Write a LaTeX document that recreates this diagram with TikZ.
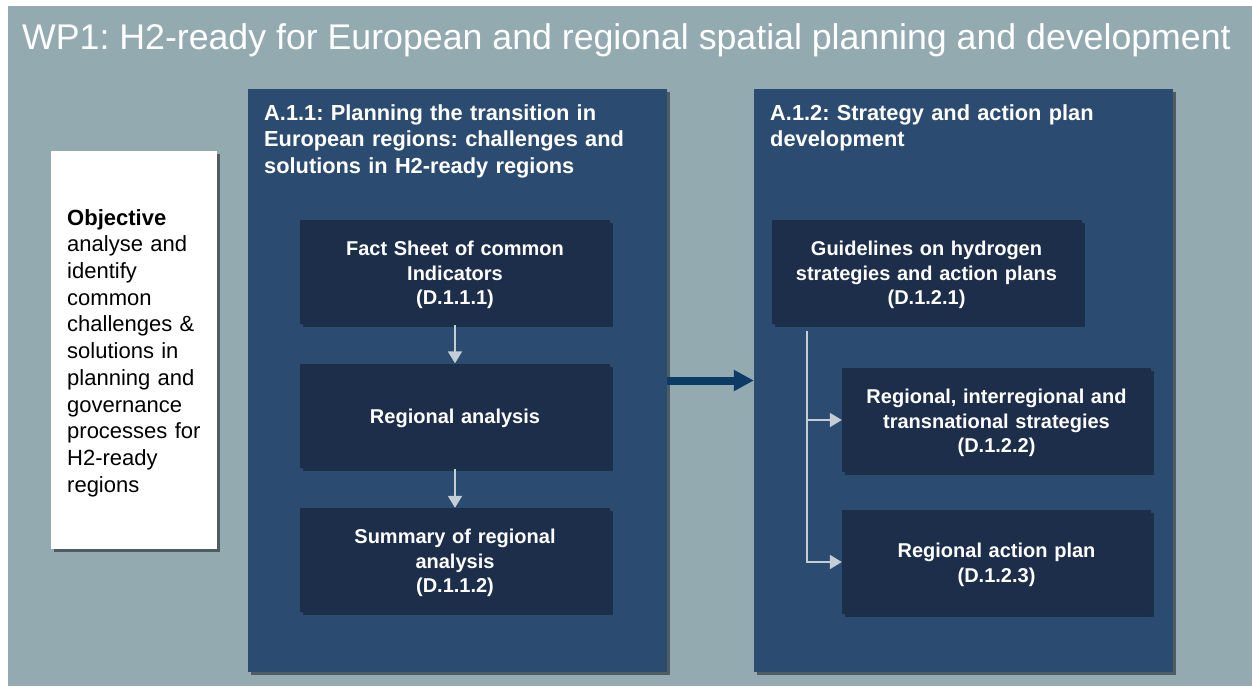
\documentclass[tikz,border=0pt]{standalone}
\usepackage{fontspec}
\setmainfont{Liberation Sans}
\usetikzlibrary{shadows,arrows.meta,calc}
\definecolor{bgc}{HTML}{92AAB0}
\definecolor{boxblue}{HTML}{2B4B71}
\definecolor{innerc}{HTML}{1C2E4A}
\definecolor{lightc}{HTML}{C5CDD5}
\definecolor{bigc}{HTML}{0C3C66}
\frenchspacing
\begin{document}
\begin{tikzpicture}[x=1pt,y=-1pt,
  outerbox/.style={fill=boxblue, draw=none, inner sep=0pt,
    drop shadow={shadow xshift=3pt, shadow yshift=-3pt, opacity=0.45, fill=black}},
  innerbox/.style={fill=innerc, draw=none, inner sep=0pt,
    minimum width=310pt, minimum height=104pt,
    drop shadow={shadow xshift=3pt, shadow yshift=-3pt, opacity=0.35, fill=black}},
  innertext/.style={inner sep=0pt, text=white, align=center, text width=300pt,
    yshift=-3pt, font=\bfseries\fontsize{20}{24.5}\selectfont},
  objbox/.style={fill=white, draw=none, inner sep=0pt,
    drop shadow={shadow xshift=3pt, shadow yshift=-3pt, opacity=0.45, fill=black}},
  headtext/.style={anchor=north west, inner sep=0pt, text=white, align=left,
    text width=400pt, font=\bfseries\fontsize{21.8}{26.5}\selectfont},
  lightarrow/.style={draw=lightc, line width=2pt, -{Triangle[length=12pt,width=14pt]}},
  lightline/.style={draw=lightc, line width=2pt},
  bigarrow/.style={draw=bigc, line width=8pt, -{Triangle[length=20pt,width=20pt]}}
]
\useasboundingbox (0,0) rectangle (1252,686);
\fill[bgc] (8,6) rectangle (1252,686);

\node[anchor=base west, inner sep=0pt, text=white, font=\fontsize{35.7}{42}\selectfont] (title) at (22,49)
  {WP1: H2-ready for European and regional spatial planning and development};

% objective
\node[objbox, minimum width=166pt, minimum height=398pt] (ob) at (134,350) {};
\node[anchor=west, inner sep=0pt, text width=150pt, align=left, font=\fontsize{22}{26.7}\selectfont] (obt) at (67,353)
  {\textbf{Objective}\\analyse and\\identify\\common\\challenges \&\\solutions in\\planning and\\governance\\processes for\\H2-ready\\regions};

% outer boxes
\node[outerbox, minimum width=419pt, minimum height=583pt] (A1) at (457.5,380.5) {};
\node[outerbox, minimum width=419pt, minimum height=583pt] (A2) at (963.5,380.5) {};
\node[headtext] (h1) at (264,104) {A.1.1: Planning the transition in\\European regions: challenges and\\solutions in H2-ready regions};
\node[headtext] (h2) at (770,104) {A.1.2: Strategy and action plan\\development};

% inner boxes
\node[innerbox] (f1) at (455,272) {};
\node[innertext] (f1t) at (f1.center) {Fact Sheet of common\\Indicators\\(D.1.1.1)};
\node[innerbox] (r1) at (455,415.5) {};
\node[innertext] (r1t) at (r1.center) {Regional analysis};
\node[innerbox] (s1) at (455,560) {};
\node[innertext] (s1t) at (s1.center) {Summary of regional\\analysis\\(D.1.1.2)};
\node[innerbox] (g1) at (926.5,272) {};
\node[innertext] (g1t) at (g1.center) {Guidelines on hydrogen\\strategies and action plans\\(D.1.2.1)};
\node[innerbox, minimum width=309pt] (r2) at (996.5,420) {};
\node[innertext] (r2t) at (r2.center) {Regional, interregional and\\transnational strategies\\(D.1.2.2)};
\node[innerbox, minimum width=309pt] (r3) at (996.5,562) {};
\node[innertext] (r3t) at (r3.center) {Regional action plan\\(D.1.2.3)};

% arrows
\draw[lightarrow] ($(f1.south)+(0,1)$) -- (r1.north);
\draw[lightarrow] ($(r1.south)+(0,1)$) -- (s1.north);
\draw[bigarrow] (A1.east) -- (A2.west);

\coordinate (bt) at ($(g1.south west)+(36,7)$);
\coordinate (bb) at (bt |- r3.west);
\coordinate (bm) at (bt |- r2.west);
\draw[lightline] (bt) -- (bb);
\draw[lightarrow] ($(bb)+(-1,0)$) -- (r3.west);
\draw[lightarrow] (bm) -- (r2.west);
\end{tikzpicture}
\end{document}
